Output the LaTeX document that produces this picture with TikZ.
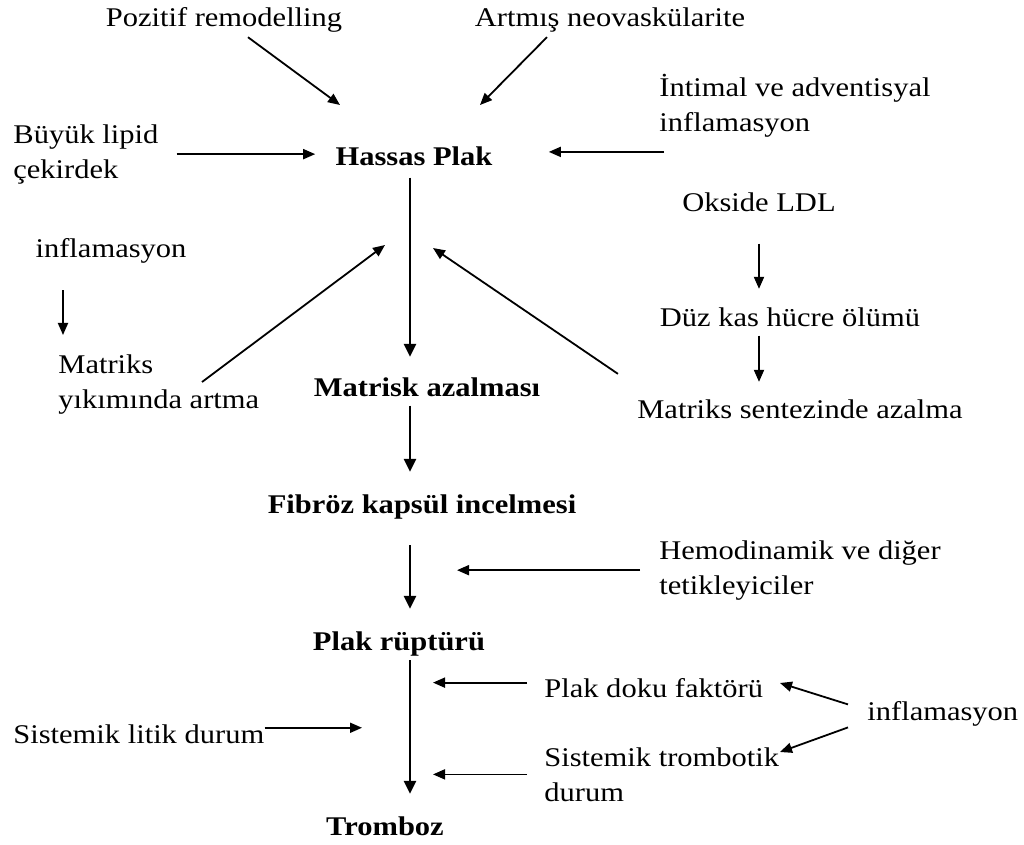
\documentclass[tikz,border=0pt]{standalone}
\usepackage{fontspec}
\setmainfont{Liberation Serif}[FakeStretch=1.13]
\usetikzlibrary{arrows.meta}

\begin{document}
\begin{tikzpicture}[
    x=0.5pt, y=-0.5pt,
    lbl/.style={inner sep=0pt, font=\fontsize{13.5}{17.5}\selectfont},
    stage/.style={lbl, font=\fontsize{13.5}{17.5}\selectfont\bfseries, anchor=base},
    arr/.style={line width=0.9pt, -{Triangle[length=6pt, width=5pt]}},
    mainarr/.style={line width=1.4pt, -{Triangle[length=6.5pt, width=6pt]}}
]
    \useasboundingbox (0,0) rectangle (1024,845);

    % main chain
    \node[stage] (hassas) at (414,166) {Hassas Plak};
    \node[stage] (matrisk) at (427,397) {Matrisk azalması};
    \node[stage] (fibroz) at (422,514) {Fibröz kapsül incelmesi};
    \node[stage] (ruptur) at (399,650) {Plak rüptürü};
    \node[stage] (tromboz) at (385,835) {Tromboz};
    \coordinate (axis) at (410,0);

    \draw[mainarr, shorten <=5.5pt, shorten >=10.5pt] (hassas.south -| axis) -- (matrisk.north -| axis);
    \draw[mainarr, shorten <=4pt, shorten >=11.5pt] (matrisk.south -| axis) -- (fibroz.north -| axis);
    \draw[mainarr, shorten <=12.5pt, shorten >=11pt] (fibroz.south -| axis) -- (ruptur.north -| axis);
    \draw[mainarr, shorten <=2pt, shorten >=11pt] (ruptur.south -| axis) -- (tromboz.north -| axis);

    % causes of the vulnerable plaque
    \node[lbl, anchor=base] (pozitif) at (224,27) {Pozitif remodelling};
    \node[lbl, anchor=base] (neovask) at (610,27) {Artmış neovaskülarite};
    \node[lbl, align=left, anchor=north west] (lipid) at (13,124) {Büyük lipid\\çekirdek};
    \node[lbl, align=left, anchor=north west] (intimal) at (659,74) {İntimal ve adventisyal\\inflamasyon};
    \coordinate (pozEnd) at (340,105);
    \coordinate (neoEnd) at (480,105);
    \coordinate (intStart) at ([xshift=2.5pt, yshift=-7pt]intimal.south west);

    \draw[arr] ([xshift=12pt, yshift=-2pt]pozitif.south) -- (pozEnd);
    \draw[arr] ([xshift=-31.5pt, yshift=-2pt]neovask.south) -- (neoEnd);
    \draw[arr, shorten <=9pt, shorten >=10pt] (lipid.east) -- (lipid.east -| hassas.west);
    \draw[arr, shorten >=28pt] (intStart) -- (intStart -| hassas.east);

    % left branch
    \node[lbl, anchor=base] (inflL) at (111,258) {inflamasyon};
    \node[lbl, align=left, anchor=north west] (yikim) at (58,354) {Matriks\\yıkımında artma};
    \coordinate (lx) at ([xshift=2.5pt]yikim.north west);
    \coordinate (hpL) at (385,245);
    \draw[arr, shorten <=13pt, shorten >=9.5pt] (inflL.south -| lx) -- (lx);
    \draw[arr] ([xshift=72pt, yshift=-14pt]yikim.north west) -- (hpL);

    % right branch
    \node[lbl, anchor=base] (okside) at (759,212) {Okside LDL};
    \node[lbl, anchor=base] (duz) at (790,327) {Düz kas hücre ölümü};
    \node[lbl, anchor=base] (sentez) at (800,419) {Matriks sentezinde azalma};
    \coordinate (hpR) at (433,248);
    \draw[arr, shorten <=15.5pt, shorten >=9.5pt] (okside.south) -- (okside.south |- duz.north);
    \draw[arr, shorten <=4pt, shorten >=9pt] (duz.south -| okside.south) -- (sentez.north -| okside.south);
    \draw[arr] ([xshift=-9.5pt, yshift=13pt]sentez.north west) -- (hpR);

    % triggers of rupture and thrombosis
    \node[lbl, align=left, anchor=north west] (hemo) at (659,540) {Hemodinamik ve diğer\\tetikleyiciler};
    \node[lbl, anchor=base west] (doku) at (544,697) {Plak doku faktörü};
    \node[lbl, align=left, anchor=north west] (trombotik) at (544,747) {Sistemik trombotik\\durum};
    \node[lbl, anchor=base west] (litik) at (13,743) {Sistemik litik durum};
    \node[lbl, anchor=base west] (inflR) at (867,720) {inflamasyon};
    \coordinate (dokuEnd) at (780,683);
    \coordinate (trombEnd) at (780,752);

    \draw[arr, shorten <=9.5pt, shorten >=23.5pt] (hemo.west) -- (hemo.west -| axis);
    \draw[arr, shorten <=8.5pt, shorten >=11.5pt] ([yshift=2.5pt]doku.west) -- ([yshift=2.5pt]doku.west -| axis);
    \draw[arr, shorten <=8.5pt, shorten >=11.5pt] (trombotik.west) -- (trombotik.west -| axis);
    \draw[arr, shorten >=24pt] ([yshift=3pt]litik.east) -- ([yshift=3pt]litik.east -| axis);
    \draw[arr] ([xshift=-9.5pt, yshift=4.5pt]inflR.west) -- (dokuEnd);
    \draw[arr] ([xshift=-9.5pt, yshift=-7pt]inflR.west) -- (trombEnd);
\end{tikzpicture}
\end{document}
